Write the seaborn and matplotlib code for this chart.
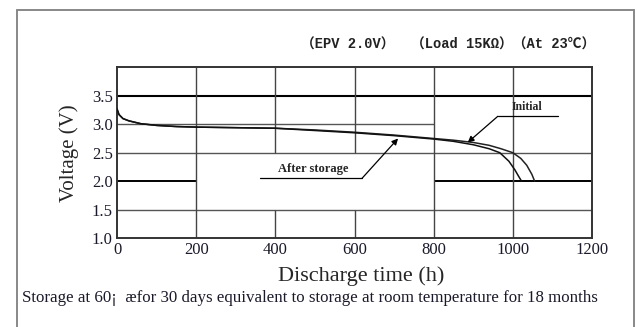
import matplotlib
matplotlib.use("Agg")
import matplotlib.pyplot as plt
from matplotlib.lines import Line2D
import numpy as np
import pandas as pd
import seaborn as sns

# Discharge curves (hours, volts)
initial_h = [0, 5, 15, 30, 60, 100, 150, 200, 300, 400, 500, 600, 700, 800,
             850, 900, 940, 970, 1000, 1020, 1035, 1048, 1055]
initial_v = [3.27, 3.17, 3.10, 3.06, 3.01, 2.98, 2.96, 2.95, 2.94, 2.93, 2.90,
             2.86, 2.81, 2.75, 2.72, 2.68, 2.63, 2.57, 2.50, 2.40, 2.28, 2.12, 2.00]
stored_h = [0, 5, 15, 30, 60, 100, 150, 200, 300, 400, 500, 600, 700, 800,
            850, 900, 940, 967, 990, 1005, 1015, 1022]
stored_v = [3.27, 3.17, 3.10, 3.06, 3.01, 2.98, 2.96, 2.95, 2.94, 2.93, 2.89,
            2.85, 2.80, 2.74, 2.70, 2.64, 2.57, 2.50, 2.35, 2.20, 2.08, 2.00]

x_ticks = [0, 200, 400, 600, 800, 1000, 1200]
y_ticks = [1.0, 1.5, 2.0, 2.5, 3.0, 3.5]

header = "（EPV 2.0V）  （Load 15KΩ）（At 23℃）"
caption = "Storage at 60¡  æfor 30 days equivalent to storage at room temperature for 18 months"

df = pd.concat([
    pd.DataFrame({"h": initial_h, "v": initial_v, "s": "Initial"}),
    pd.DataFrame({"h": stored_h, "v": stored_v, "s": "After storage"}),
])

sns.set_style("white")
plt.rcParams["font.family"] = ["Liberation Serif", "DejaVu Serif"]

fig = plt.figure(figsize=(6.37, 3.27), dpi=100)
ax = fig.add_axes([0.1837, 0.272, 0.7457, 0.522])

# Irregular chart grid: (y, x0, x1, colour, width) and (x, y0, y1, colour, width)
grid_h = [(3.5, 0, 1200, "black", 1.5), (3.0, 0, 800, "#555555", 1.0),
          (2.5, 0, 1200, "#555555", 1.0), (2.0, 0, 200, "black", 1.4),
          (2.0, 800, 1200, "black", 1.4), (1.5, 0, 1200, "#555555", 1.0)]
grid_v = [(200, 1, 4, "#444444", 1.0), (400, 2.5, 4, "#444444", 1.0),
          (400, 1, 1.5, "#444444", 1.0), (600, 2.5, 4, "#444444", 1.0),
          (600, 1, 1.5, "#444444", 1.0), (800, 1, 4, "#444444", 1.0),
          (1000, 1, 4, "#444444", 1.0)]
for y, a, b, c, w in grid_h:
    ax.hlines(y, a, b, colors=c, linewidth=w, zorder=1)
for x, a, b, c, w in grid_v:
    ax.vlines(x, a, b, colors=c, linewidth=w, zorder=1)

sns.lineplot(data=df, x="h", y="v", hue="s", units="s", estimator=None,
             palette={"Initial": "#222222", "After storage": "#111111"},
             linewidth=1.1, sort=False, legend=False, ax=ax, zorder=3)

ax.set_xlim(0, 1200)
ax.set_ylim(1.0, 4.0)
ax.set_xticks(x_ticks)
ax.set_xticklabels([str(t) for t in x_ticks])
ax.set_yticks(y_ticks)
ax.set_yticklabels([f"{t:.1f}" for t in y_ticks])
ax.tick_params(length=0, labelsize=12, colors="#1a1a2a", pad=3)
for sp in ax.spines.values():
    sp.set_color("#333333")
    sp.set_linewidth(1.4)

ax.set_xlabel("Discharge time (h)", fontsize=16, labelpad=1)
ax.xaxis.set_label_coords(0.515, -0.165)
ax.set_ylabel("Voltage (V)", fontsize=15, labelpad=9)

# Curve callouts
ax.annotate("", xy=(886, 2.68), xytext=(962, 3.14),
            arrowprops=dict(arrowstyle="-|>", color="black", lw=0.9,
                            mutation_scale=9, shrinkA=0, shrinkB=0))
ax.plot([962, 1114], [3.14, 3.14], color="black", lw=0.9)
ax.text(1035, 3.19, "Initial", ha="center", va="bottom", fontsize=8.5,
        fontweight="bold")

ax.annotate("", xy=(710, 2.75), xytext=(619, 2.05),
            arrowprops=dict(arrowstyle="-|>", color="black", lw=0.9,
                            mutation_scale=9, shrinkA=0, shrinkB=0))
ax.plot([361, 619], [2.05, 2.05], color="black", lw=0.9)
ax.text(495, 2.10, "After storage", ha="center", va="bottom", fontsize=9,
        fontweight="bold")

fig.text(0.704, 0.865, header, ha="center", va="center", fontsize=9.9,
         fontweight="bold", family=["Liberation Mono", "Noto Sans CJK SC"],
         color="#222222")
fig.text(0.035, 0.088, caption, ha="left", va="center", fontsize=12.2,
         color="#1a1a2a")

# Outer frame (open at the bottom)
frame = dict(color="#888888", lw=1.4, transform=fig.transFigure)
fig.add_artist(Line2D([0.026, 0.026], [0.0, 0.97], **frame))
fig.add_artist(Line2D([0.026, 0.996], [0.97, 0.97], **frame))
fig.add_artist(Line2D([0.996, 0.996], [0.0, 0.97], **frame))

fig.savefig("out.png", dpi=100)
